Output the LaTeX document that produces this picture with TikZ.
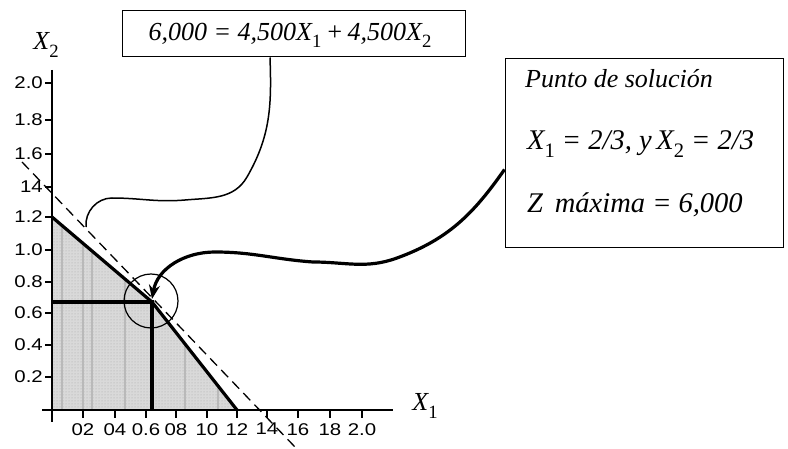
\documentclass[tikz,border=0pt]{standalone}
\usepackage{fontspec}
\setmainfont{Liberation Serif}
\newfontfamily\tickfont{Liberation Sans}
\usetikzlibrary{arrows.meta,calc,patterns}
\newcommand\sbs[1]{\raisebox{-0.28em}{\scalebox{0.72}{\upshape #1}}}
\newcommand\tk[1]{\scalebox{1.2}[1]{#1}}
\begin{document}
\begin{tikzpicture}[x=1pt,y=-1pt,
  ticklab/.style={font=\fontsize{17}{17}\selectfont\tickfont, inner sep=0},
  axisline/.style={line width=2.5pt},
  thickline/.style={line width=3.2pt},
  boxstyle/.style={draw, line width=1pt, inner sep=0},
  eqfont/.style={font=\fontsize{26}{28}\selectfont\itshape, inner sep=0},
  solfont/.style={font=\fontsize{26}{30}\selectfont\itshape, inner sep=0},
  solfontb/.style={font=\fontsize{28.5}{32}\selectfont\itshape, inner sep=0},
  axlab/.style={font=\fontsize{26}{28}\selectfont\itshape, inner sep=0},
  thincurve/.style={line width=1.5pt},
  thickcurve/.style={line width=3.2pt},
  shade/.style={fill=gray!30},
  hatch/.style={draw=gray!55, line width=1.6pt}]
\useasboundingbox (0,0) rectangle (788,449);

% feasible region
\fill[shade] (52,410) -- (52,217) -- (152,302) -- (237,410) -- cycle;
\fill[pattern=dots, pattern color=gray!70] (52,410) -- (52,217) -- (152,302) -- (237,410) -- cycle;
\begin{scope}
  \clip (52,410) -- (52,217) -- (152,302) -- (237,410) -- cycle;
  \foreach \x in {62,83,92,125,185,218}
    \draw[hatch] (\x,200) -- (\x,410);
\end{scope}

% axes
\draw[axisline] (52,70) -- (52,422);
\draw[axisline] (42,410) -- (393,410);

% y ticks
\foreach \v/\y/\n in {2.0/83/a,1.8/120/b,1.6/154/c,14/187/d,1.2/217/e,1.0/250/f,0.8/282/g,0.6/313/h,0.4/345/i,0.2/377/j}{
  \draw[line width=1.8pt] (45,\y) -- (52,\y);
  \node[ticklab,anchor=east] (ylab\n) at (43,\y) {\tk{\v}};
}
% x ticks
\foreach \v/\x/\n in {02/83/a,04/115/b,0.6/146/c,08/176/d,10/207/e,12/237/f,14/267/g,16/298/h,18/330/i,2.0/362/j}{
  \draw[line width=1.8pt] (\x,410) -- (\x,418);
  \node[ticklab,anchor=north] (xlab\n) at (\x,423) {\tk{\v}};
}

% axis labels
\node[axlab] (X2) at (46,45) {X\sbs{2}};
\node[axlab] (X1) at (425,406) {X\sbs{1}};

% iso-profit dashed line
\coordinate (d1) at (22,162);
\coordinate (d2) at (295,447);
\draw[line width=1.3pt, dash pattern=on 10pt off 6pt] (d1) -- (d2);

% constraint lines
\coordinate (P) at (152,302);
\draw[thickline] (52,217) -- (P) -- (237,410);
\draw[thickline] (52,302) -- (P) -- (152,410);

% circle round solution
\draw[line width=1.2pt] (151,301) circle (27);

% top box
\node[boxstyle, minimum width=343pt, minimum height=46pt] (eq) at (293.5,34) {};
\node[eqfont] (eqtext) at (290,35) {6,000 = 4,500X\sbs{1}\,+\,4,500X\sbs{2}};

% right box
\node[boxstyle, minimum width=278pt, minimum height=189pt] (sol) at (644,153.5) {};
\node[solfont, anchor=base west] (t1) at (525,88) {Punto de solución};
\node[solfontb, anchor=base west] (t2) at (527,150) {X\sbs{1} = 2/3, y\,X\sbs{2} = 2/3};
\node[solfontb, anchor=base west] (t3) at (527,213) {Z\, máxima = 6,000};

% curve from equation box
\coordinate (c1s) at ([xshift=-23.5pt]eq.south);
\coordinate (c1e) at (86,227);
\draw[thincurve] (c1s) to[out=-88,in=60] (247,177) to[out=-120,in=5] (185,200)
  to[out=185,in=0] (112,198) to[out=180,in=95] (c1e);

% arrow from solution box
\coordinate (c2s) at ($(sol.west)+(0,16)$);
\draw[thickcurve, -{Stealth[length=14pt,width=11pt]}] (c2s) to[out=-125,in=20] (397,258)
  to[out=200,in=0] (313,262) to[out=176,in=0] (215,252) to[out=180,in=80] ([yshift=3pt]P);
\end{tikzpicture}
\end{document}
